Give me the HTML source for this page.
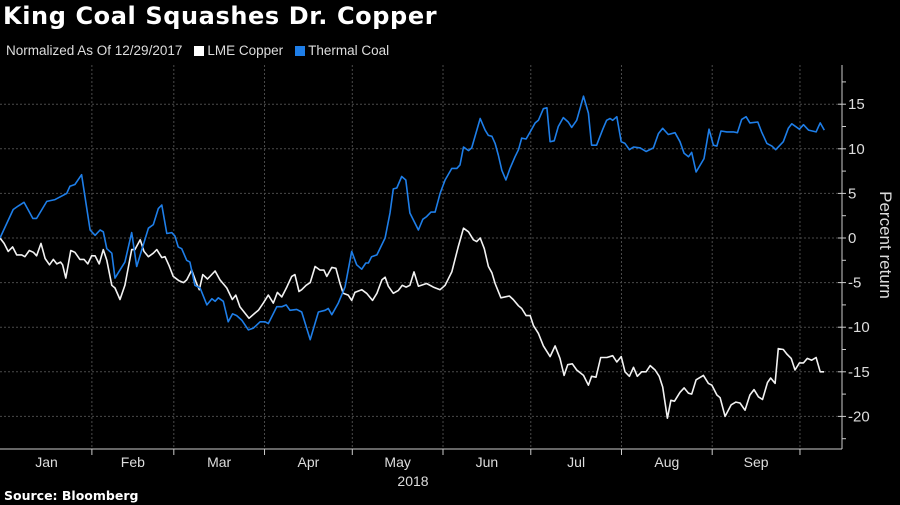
<!DOCTYPE html>
<html><head><meta charset="utf-8">
<style>
html,body{margin:0;padding:0;background:#000;}
body{width:900px;height:505px;overflow:hidden;font-family:"Liberation Sans",sans-serif;color:#fff;position:relative;}
#title{position:absolute;left:3px;top:2px;font-family:"DejaVu Sans",sans-serif;font-size:24px;font-weight:bold;letter-spacing:0.6px;white-space:nowrap;}
#legend{position:absolute;left:6px;top:43px;font-size:13.5px;color:#ddd;display:flex;align-items:center;}
.sw{display:inline-block;width:10px;height:10px;margin:0 3px 0 12px;}
#source{position:absolute;left:4px;top:488px;font-family:"DejaVu Sans",sans-serif;font-size:12.5px;font-weight:bold;}
svg{position:absolute;left:0;top:0;}
</style></head>
<body>
<div id="title">King Coal Squashes Dr. Copper</div>
<div id="legend">
<span>Normalized As Of 12/29/2017</span>
<span class="sw" style="background:#fff"></span><span>LME Copper</span>
<span class="sw" style="background:#1e7ee8"></span><span>Thermal Coal</span>
</div>
<div id="source">Source: Bloomberg</div>
<svg id="chart" width="900" height="505"></svg>
<script>
const monthNames=["Jan","Feb","Mar","Apr","May","Jun","Jul","Aug","Sep"];
const monthStarts=[3,34,62,93,123,154,184,215,246,276];
const yTicks=[15,10,5,0,-5,-10,-15,-20];
const yMinorTicks=[17.5,12.5,7.5,2.5,-2.5,-7.5,-12.5,-17.5,-22.5];
const coalDays=[2.6,7.1,8.9,10.8,12.3,13.8,15.1,18.6,21.4,23.7,25.4,26.5,28.2,30.5,33.4,35.1,36.8,37.9,39.1,40.8,41.9,45.3,47.6,49.3,53.3,55.0,56.7,57.9,59.6,61.3,62.4,63.5,64.7,66.4,67.5,69.2,71.0,73.3,75.0,76.1,77.2,78.9,80.6,82.1,83.5,85.2,87.5,89.2,91.5,93.2,94.3,97.2,98.9,100.4,101.7,104.0,105.7,108.6,111.4,113.7,114.8,116.0,118.2,120.5,122.8,124.5,126.2,127.6,128.5,129.6,131.4,134.2,135.9,137.0,138.2,139.9,141.3,142.7,145.6,147.1,148.4,149.9,151.3,153.0,154.7,157.0,158.7,159.8,161.0,162.7,163.8,166.7,168.4,169.5,170.7,171.8,172.9,174.1,175.5,176.9,178.6,179.8,180.9,182.4,183.8,185.5,186.6,188.3,189.5,190.6,192.0,193.4,195.1,196.8,198.0,199.7,202.0,203.7,204.8,206.5,208.6,209.9,211.1,212.0,213.4,214.9,216.2,217.7,219.1,221.4,223.4,225.9,227.6,229.1,231.0,233.3,235.0,236.4,237.9,239.0,240.5,243.2,244.9,246.4,247.6,249.0,251.0,253.2,254.6,256.1,257.6,258.9,261.6,262.9,264.7,266.4,267.7,270.3,272.0,273.2,275.8,277.2,278.9,281.5,282.9,284.3];
const coalValues=[0,3.2,3.6,4.0,3.1,2.2,2.2,4.1,4.3,4.7,5.0,5.8,6.0,7.1,0.9,0.3,0.9,0.7,-1.2,-1.7,-4.5,-2.7,0.6,-3.2,1.1,1.5,3.3,3.7,0.5,0.6,0.2,-1.0,-1.2,-2.5,-2.7,-5.3,-5.6,-7.5,-6.8,-7.1,-6.7,-7.1,-9.4,-8.5,-8.7,-9.2,-10.3,-10.1,-9.4,-9.4,-9.6,-7.7,-7.7,-7.5,-8.1,-8.0,-8.3,-11.4,-8.3,-8.1,-7.9,-8.6,-7.3,-5.5,-1.5,-3.0,-3.5,-2.8,-2.8,-2.1,-1.9,0,2.8,5.5,5.6,6.9,6.5,2.8,0.9,2.1,2.4,2.9,2.9,5.0,6.5,7.8,7.8,8.2,10.2,9.8,10.1,13.4,12.1,11.5,11.4,10.6,9.3,7.6,6.5,7.8,9.1,9.9,11.2,11.1,11.9,12.9,13.2,14.5,14.6,10.8,10.9,12.5,13.5,13.0,12.4,13.2,15.9,14.0,10.4,10.4,12.2,13.2,13.4,13.2,13.6,10.8,10.6,9.9,10.2,10.1,9.7,10.1,11.7,12.3,11.6,11.8,10.8,9.5,9.1,9.6,7.4,8.9,12.2,10.4,10.3,12.0,11.9,11.9,11.8,13.3,13.6,12.9,13.0,11.9,10.6,10.3,9.9,10.8,12.3,12.8,12.2,12.7,12.1,11.9,12.9,12.1];
const copperDays=[2.6,4.0,5.4,6.9,8.3,10.0,11.1,12.6,14.0,15.1,16.6,18.0,19.5,20.8,22.0,23.3,24.0,25.1,26.8,28.2,29.9,31.3,32.6,33.9,35.1,36.5,37.9,39.1,40.8,41.9,43.6,45.3,47.6,48.7,50.5,51.8,53.3,55.0,56.2,57.9,59.0,60.4,61.8,63.8,65.3,66.4,68.1,69.8,70.7,71.9,73.5,76.1,77.8,80.1,82.0,83.2,84.6,87.7,89.8,90.9,92.6,94.3,96.0,97.4,98.9,100.6,102.3,103.4,104.8,105.7,107.2,108.6,110.3,112.0,113.3,114.3,116.0,117.4,118.8,119.9,121.6,122.8,123.9,126.2,127.9,129.9,131.4,133.1,134.2,135.3,137.0,138.7,140.1,141.4,142.7,144.1,145.6,148.4,150.7,153.0,154.7,157.0,159.2,161.0,162.7,164.4,165.5,166.7,168.1,169.5,170.7,171.8,173.8,176.7,178.0,179.8,180.9,182.4,183.8,184.9,186.6,188.3,190.6,192.3,194.0,195.4,196.6,198.2,199.7,202.0,203.7,204.8,206.3,207.9,210.0,212.0,213.4,214.9,216.2,217.7,219.1,220.4,221.9,223.4,224.8,226.5,227.9,229.1,230.7,231.9,233.1,235.0,236.4,237.9,239.0,240.5,243.0,244.7,245.9,247.6,248.7,250.4,252.5,254.1,255.5,257.2,258.9,260.3,261.8,263.2,264.9,266.0,267.5,268.6,270.3,271.5,273.0,274.3,275.8,277.2,278.5,280.0,281.5,282.9,284.2];
const copperValues=[0,-0.6,-1.5,-1.0,-1.9,-1.9,-2.1,-1.4,-1.6,-2.0,-0.6,-2.3,-3.0,-2.4,-2.9,-2.7,-3.0,-4.5,-1.4,-1.6,-2.4,-2.4,-2.9,-2.0,-2.0,-2.9,-1.3,-2.5,-5.3,-5.6,-6.9,-5.3,-1.3,-1.3,-0.2,-1.5,-2.1,-1.7,-1.3,-2.2,-2.1,-3.1,-4.3,-4.8,-5.0,-4.7,-3.6,-5.1,-5.8,-4.1,-4.6,-3.7,-4.7,-5.6,-6.9,-6.4,-7.7,-9.0,-8.4,-8.1,-7.3,-6.4,-7.3,-6.1,-6.6,-5.5,-4.3,-4.1,-6.0,-5.8,-5.3,-5.0,-3.2,-3.6,-3.6,-4.3,-3.3,-3.4,-5.1,-6.2,-6.4,-7.0,-6.1,-5.8,-6.2,-7.0,-6.2,-4.7,-4.4,-5.4,-6.2,-5.9,-5.3,-5.5,-5.3,-3.8,-5.4,-5.1,-5.5,-5.8,-5.3,-3.8,-1.0,1.1,0.7,-0.2,-0.4,0,-1.2,-3.2,-3.9,-5.1,-6.7,-6.5,-6.9,-7.6,-7.9,-8.7,-8.7,-9.8,-10.7,-12.1,-13.3,-12.1,-13.5,-15.4,-14.2,-14.1,-14.8,-15.4,-16.5,-15.5,-15.6,-13.4,-13.4,-13.2,-13.9,-13.3,-15.0,-15.5,-14.5,-15.5,-15.0,-15.0,-14.3,-14.8,-15.5,-16.7,-20.2,-18.2,-18.3,-17.3,-16.8,-17.4,-17.5,-15.9,-15.4,-16.3,-16.5,-17.6,-17.9,-20.0,-18.7,-18.4,-18.5,-19.3,-17.6,-17.0,-17.8,-18.1,-16.2,-15.7,-16.3,-12.4,-12.5,-13.0,-13.5,-14.8,-14.0,-14.0,-13.5,-13.7,-13.4,-15.0,-15.0];

const NS="http://www.w3.org/2000/svg";
const svg=document.getElementById('chart');
const PLOT_TOP=65,PLOT_BOT=449,AXIS_X=842;
function xScale(d){return -7.6+2.926*d;}
function yScale(v){return 238-8.92*v;}
function mk(tag,attrs){const e=document.createElementNS(NS,tag);for(const k in attrs)e.setAttribute(k,attrs[k]);svg.appendChild(e);return e;}

yTicks.forEach(v=>{
  const y=yScale(v);
  const g=mk('line',{x1:0,x2:AXIS_X,y1:y,y2:y,stroke:'#4a4a4a','stroke-width':1,'stroke-dasharray':'2,2'});
  
  
  const t=mk('line',{x1:AXIS_X-4,x2:AXIS_X+4,y1:y,y2:y,stroke:'#ccc','stroke-width':1});
  
  
  const lab=mk('text',{x:AXIS_X+6,y:y+5,fill:'#ddd','font-size':15,'font-family':'Liberation Sans, sans-serif'});
  lab.textContent=(v<0?'-':'')+Math.abs(v);
  
  
});
yMinorTicks.forEach(v=>{
  const y=yScale(v);
  const t=mk('line',{x1:AXIS_X,x2:AXIS_X+4,y1:y,y2:y,stroke:'#ccc','stroke-width':1});
  
  
});
monthStarts.slice(1).forEach(d=>{
  const x=xScale(d);
  const g=mk('line',{x1:x,x2:x,y1:PLOT_TOP,y2:PLOT_BOT,stroke:'#4a4a4a','stroke-width':1,'stroke-dasharray':'2,2'});
  
  
  const t=mk('line',{x1:x,x2:x,y1:PLOT_BOT,y2:PLOT_BOT+6,stroke:'#ccc','stroke-width':1});
  
  
});
monthNames.forEach((m,i)=>{
  const x=(xScale(monthStarts[i])+xScale(monthStarts[i+1]))/2;
  const t=mk('text',{x:x,y:467,fill:'#ddd','font-size':14,'text-anchor':'middle','font-family':'Liberation Sans, sans-serif'});
  t.textContent=m;
  
  
});
const yr=mk('text',{x:413,y:486,fill:'#ddd','font-size':14,'text-anchor':'middle','font-family':'Liberation Sans, sans-serif'});
yr.textContent='2018';


const ax=mk('line',{x1:0,x2:AXIS_X,y1:PLOT_BOT,y2:PLOT_BOT,stroke:'#ccc','stroke-width':1});


const ay=mk('line',{x1:AXIS_X,x2:AXIS_X,y1:PLOT_TOP,y2:PLOT_BOT,stroke:'#ccc','stroke-width':1});


const yt=mk('text',{x:0,y:0,fill:'#ddd','font-size':17,'text-anchor':'middle','font-family':'Liberation Sans, sans-serif',transform:'translate(880,245) rotate(90)'});
yt.textContent='Percent return';


function line(days,vals,color,name){
  const n=Math.min(days.length,vals.length);
  let d='';
  for(let i=0;i<n;i++){d+=(i?'L':'M')+xScale(days[i]).toFixed(1)+','+yScale(vals[i]).toFixed(1);}
  const p=mk('path',{d:d,fill:'none',stroke:color,'stroke-width':1.6,'stroke-linejoin':'round'});
  
  
}
line(copperDays,copperValues,'#f2f2f2','copper-line');
line(coalDays,coalValues,'#1e7ee8','coal-line');
</script>
</body></html>
